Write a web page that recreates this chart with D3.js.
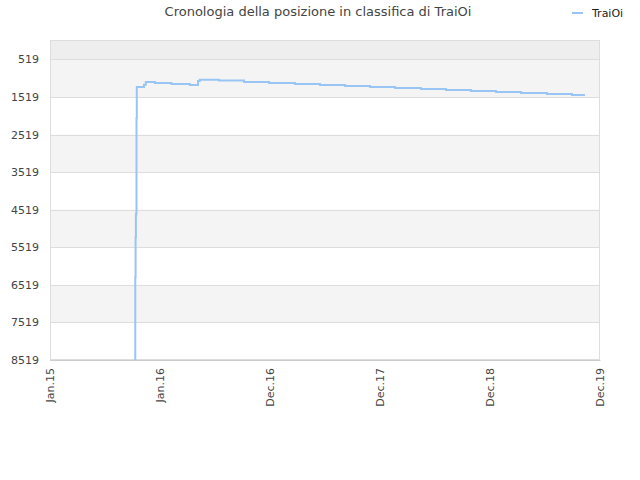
<!DOCTYPE html>
<html>
<head>
<meta charset="utf-8">
<script src="https://cdn.jsdelivr.net/npm/d3@7"></script>
<style>
  body { margin: 0; background: #fff; }
  text { font-family: "DejaVu Sans", sans-serif; }
</style>
</head>
<body>
<div id="chart"></div>
<script>
// data
var dates = [
    '2015-10-11', '2015-10-11', '2015-10-11', '2015-10-11', '2015-10-12', '2015-10-12',
    '2015-10-12', '2015-10-12', '2015-10-12', '2015-10-13', '2015-10-13', '2015-10-13',
    '2015-10-13', '2015-10-14', '2015-10-15', '2015-10-15', '2015-10-16',
    '2015-11-09', '2015-11-15', '2015-12-15', '2016-02-08', '2016-04-09', '2016-05-06',
    '2016-05-12', '2016-07-15', '2016-10-06', '2016-12-28', '2017-03-24', '2017-06-15',
    '2017-09-06', '2017-11-28', '2018-02-19', '2018-05-16', '2018-08-07', '2018-10-29',
    '2019-01-20', '2019-04-13', '2019-07-08', '2019-09-29', '2019-11-11'
];
var ranks = [
    8519, 7641, 6789, 6310, 6097, 5884,
    5618, 5405, 5245, 5112, 5006, 4926,
    4660, 4606, 4473, 2077, 1252,
    1191, 1119, 1146, 1172, 1199, 1092,
    1058, 1079, 1119, 1146, 1172, 1199,
    1226, 1252, 1279, 1305, 1332, 1359,
    1385, 1412, 1438, 1465, 1465
];
var yTicks = [519, 1519, 2519, 3519, 4519, 5519, 6519, 7519, 8519];
var xTickDates = ['2015-01-01', '2016-01-01', '2016-12-31', '2017-12-31', '2018-12-31', '2019-12-31'];
var xTickLabels = ['Jan.15', 'Jan.16', 'Dec.16', 'Dec.17', 'Dec.18', 'Dec.19'];
var seriesName = 'TraiOi';
var title = 'Cronologia della posizione in classifica di TraiOi';

var width = 640, height = 480;
var margin = {top: 40, right: 40, bottom: 120, left: 50};
var parse = d3.utcParse('%Y-%m-%d');
var lineColor = '#98c5f3';

var svg = d3.select('#chart')
    .append('svg')
    .attr('width', width)
    .attr('height', height);

var x = d3.scaleUtc()
    .domain([parse('2015-01-01'), parse('2019-12-31')])
    .range([margin.left, width - margin.right]);

var y = d3.scaleLinear()
    .domain([1, 8519])
    .range([margin.top, height - margin.bottom]);

// alternating bands between ticks
var bandEdges = [1].concat(yTicks);
var bands = d3.pairs(bandEdges);
svg.append('g')
    .selectAll('rect')
    .data(bands)
    .enter()
    .append('rect')
    .attr('x', margin.left)
    .attr('width', width - margin.left - margin.right)
    .attr('y', d => y(d[0]))
    .attr('height', d => y(d[1]) - y(d[0]))
    .attr('fill', (d, i) => i === 0 ? '#eeeeee' : (i % 2 === 1 ? '#f4f4f4' : '#ffffff'));

// grid lines
svg.append('g')
    .selectAll('line')
    .data(yTicks)
    .enter()
    .append('line')
    .attr('x1', margin.left)
    .attr('x2', width - margin.right)
    .attr('y1', d => Math.round(y(d)) + 0.5)
    .attr('y2', d => Math.round(y(d)) + 0.5)
    .attr('stroke', '#dddddd');

// frame
svg.append('rect')
    .attr('x', margin.left + 0.5)
    .attr('y', margin.top + 0.5)
    .attr('width', width - margin.left - margin.right - 1)
    .attr('height', height - margin.top - margin.bottom - 1)
    .attr('fill', 'none')
    .attr('stroke', '#dddddd');

// y axis
var yAxis = svg.append('g')
    .attr('transform', 'translate(' + margin.left + ',0)')
    .call(d3.axisLeft(y).tickValues(yTicks).tickSize(0).tickPadding(11).tickFormat(d3.format('d')));
yAxis.select('.domain').remove();
yAxis.selectAll('text')
    .attr('fill', '#444')
    .style('font-size', '11px');

// x axis
var xAxis = svg.append('g')
    .attr('transform', 'translate(0,' + (height - margin.bottom) + ')')
    .call(d3.axisBottom(x)
        .tickValues(xTickDates.map(parse))
        .tickSize(0)
        .tickFormat((d, i) => xTickLabels[i]));
xAxis.select('.domain').attr('stroke', '#cccccc');
xAxis.selectAll('text')
    .attr('fill', '#444')
    .style('font-size', '11px')
    .attr('text-anchor', 'end')
    .attr('transform', 'rotate(-90)')
    .attr('x', -8)
    .attr('y', 0)
    .attr('dy', '0.35em');

// series
var points = dates.map((d, i) => ({date: parse(d), rank: ranks[i]}));
var line = d3.line()
    .curve(d3.curveStepAfter)
    .x(d => x(d.date))
    .y(d => y(d.rank));

svg.append('path')
    .datum(points)
    .attr('d', line)
    .attr('fill', 'none')
    .attr('stroke', lineColor)
    .attr('stroke-width', 2);

// title
svg.append('text')
    .attr('x', 318)
    .attr('y', 16)
    .attr('text-anchor', 'middle')
    .attr('fill', '#444')
    .style('font-size', '13px')
    .text(title);

// legend
var legend = svg.append('g')
    .attr('transform', 'translate(572,13)');
legend.append('line')
    .attr('x1', 0)
    .attr('x2', 11)
    .attr('stroke', lineColor)
    .attr('stroke-width', 2);
legend.append('text')
    .attr('x', 20)
    .attr('dy', '0.35em')
    .attr('fill', '#222')
    .style('font-size', '11px')
    .text(seriesName);
</script>
</body>
</html>
